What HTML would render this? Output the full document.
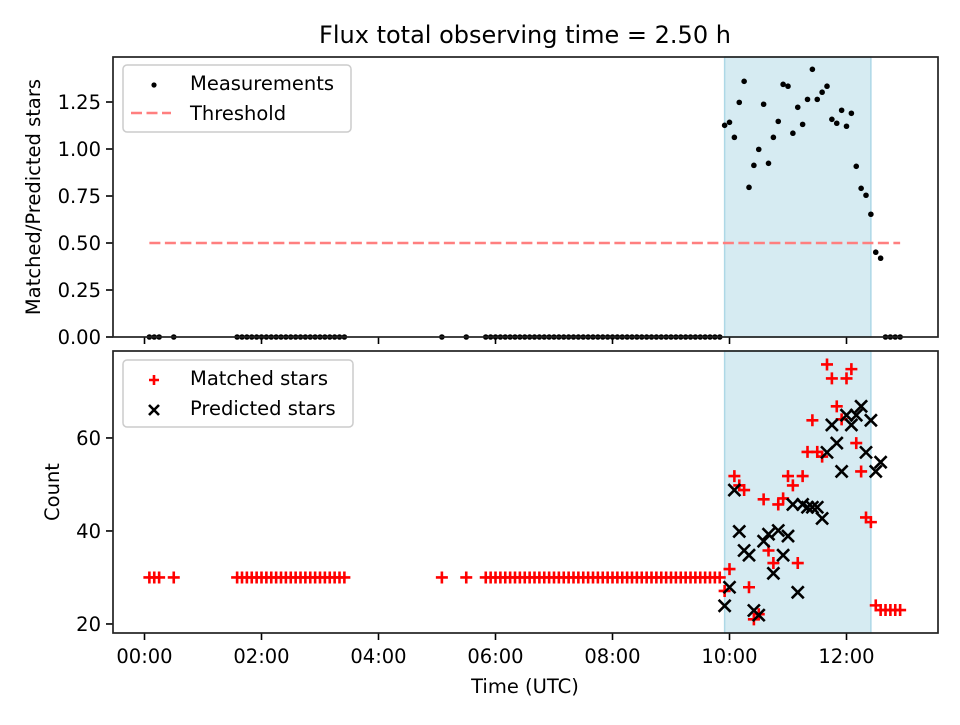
<!DOCTYPE html>
<html><head><meta charset="utf-8"><style>
body{margin:0;background:#fff}
svg{font-family:"DejaVu Sans","Liberation Sans",sans-serif}
</style></head><body>
<svg id="c" width="960" height="720" viewBox="0 0 960 720"></svg>
<script>
// ---- data ----
const preTimes = ["00:05","00:10","00:15","00:30"];
const groupA = ["01:35","03:25"];   // every 5 min between
const isoTimes = ["05:05","05:30"];
const groupB = ["05:50","09:50"];   // every 5 min between
const obsStart = "09:55";           // observing window samples every 5 min
const ratioValues = [1.126,1.142,1.062,1.248,1.360,0.796,0.913,0.998,1.238,0.924,1.062,1.147,1.344,1.334,1.084,1.222,1.131,1.264,1.424,1.264,1.302,1.334,1.158,1.137,1.206,1.121,1.190,0.908,0.791,0.754,0.653,0.451,0.419];
const matchedValues = [27.1,31.8,51.8,49.8,48.8,27.9,21.0,22.1,46.8,35.8,33.1,45.7,47.0,51.8,49.8,33.1,51.8,57.0,63.8,57.0,56.0,75.8,72.8,66.8,64.0,72.8,74.8,58.9,52.8,42.9,41.9,24.0,23.0];
const predictedValues = [23.9,27.9,48.8,39.9,35.8,34.8,22.9,21.9,37.8,39.3,30.9,40.1,34.8,38.9,45.7,26.8,45.7,45.1,45.1,45.1,42.7,56.9,62.8,58.9,52.8,64.9,62.8,64.9,66.8,56.9,63.8,52.8,54.8];
const postTimes = ["12:40","12:45","12:50","12:55"];
const postMatched = 23;
const offMatched = 30;
const shadeRange = ["09:55","12:25"];
const thresholdRange = ["00:05","12:55"];
const thresholdValue = 0.5;
const xTicks = ["00:00","02:00","04:00","06:00","08:00","10:00","12:00"];
const topTicks = [0,0.25,0.5,0.75,1.0,1.25];
const botTicks = [20,40,60];

// ---- helpers ----
const NS="http://www.w3.org/2000/svg";
const svg=document.getElementById('c');
function mk(t,a,p){const e=document.createElementNS(NS,t);for(const k in a)e.setAttribute(k,a[k]);(p||svg).appendChild(e);return e;}
function hrs(s){const [h,m]=s.split(':').map(Number);return h+m/60;}
function range5(a,b){const r=[];for(let t=hrs(a);t<=hrs(b)+1e-6;t+=5/60)r.push(t);return r;}
const L=113,R=938,T1=57,B1=337,T2=351,B2=633;
const xmin=-0.5385,xmax=13.564;
const X=h=>L+(h-xmin)/(xmax-xmin)*(R-L);
const Y1=v=>B1-v/1.4894*(B1-T1);
const Y2=v=>B2-(v-18.06)/(78.7-18.06)*(B2-T2);
const FS=19.5;

const offTimes=[...preTimes.map(hrs),...range5(groupA[0],groupA[1]),...isoTimes.map(hrs),...range5(groupB[0],groupB[1])];
const obsTimes=[];for(let i=0;i<ratioValues.length;i++)obsTimes.push(hrs(obsStart)+i*5/60);
const postT=postTimes.map(hrs);

// title
let t=mk('text',{x:525,y:43,'font-size':'24','text-anchor':'middle'});t.textContent='Flux total observing time = 2.50 h';



function panel(top,bot,Y,ticks,fmt,name){
  const g=mk('g',{});
  
  
  const sh=mk('rect',{x:X(hrs(shadeRange[0])),y:top,width:X(hrs(shadeRange[1]))-X(hrs(shadeRange[0])),height:bot-top,fill:'#add8e6','fill-opacity':0.5,stroke:'#add8e6','stroke-width':1.5},g);
  
  
  ticks.forEach(v=>{const y=Y(v);mk('line',{x1:L-7,x2:L,y1:y,y2:y,stroke:'#000','stroke-width':1.6},g);
    const tx=mk('text',{x:L-12,y:y+7,'font-size':FS,'text-anchor':'end'},g);tx.textContent=fmt(v);
    
    });
  xTicks.forEach(s=>{const x=X(hrs(s));mk('line',{x1:x,x2:x,y1:bot,y2:bot+7,stroke:'#000','stroke-width':1.6},g);});
  return g;
}
const g1=panel(T1,B1,Y1,topTicks,v=>v.toFixed(2),'top-panel');
const g2=panel(T2,B2,Y2,botTicks,v=>String(v),'bottom-panel');

// top: threshold
const th=mk('line',{x1:X(hrs(thresholdRange[0])),x2:X(hrs(thresholdRange[1])),y1:Y1(thresholdValue),y2:Y1(thresholdValue),stroke:'#ff7f7f','stroke-width':2.6,'stroke-dasharray':'11,4.5'},g1);


function dot(x,y){const c=mk('circle',{cx:x,cy:y,r:2.8,fill:'#000'},g1);
  
  }
offTimes.forEach(h=>dot(X(h),Y1(0)));
obsTimes.forEach((h,i)=>dot(X(h),Y1(ratioValues[i])));
postT.forEach(h=>dot(X(h),Y1(0)));

// bottom
function plus(x,y){const p=mk('path',{d:`M${x-6},${y}H${x+6}M${x},${y-6}V${y+6}`,stroke:'#f00','stroke-width':2.6},g2);
  
  }
function cross(x,y){const p=mk('path',{d:`M${x-6},${y-6}L${x+6},${y+6}M${x-6},${y+6}L${x+6},${y-6}`,stroke:'#000','stroke-width':2.6},g2);
  
  }
offTimes.forEach(h=>plus(X(h),Y2(offMatched)));
obsTimes.forEach((h,i)=>plus(X(h),Y2(matchedValues[i])));
postT.forEach(h=>plus(X(h),Y2(postMatched)));
obsTimes.forEach((h,i)=>cross(X(h),Y2(predictedValues[i])));

// frames
[[T1,B1],[T2,B2]].forEach(([a,b])=>mk('rect',{x:L,y:a,width:R-L,height:b-a,fill:'none',stroke:'#222','stroke-width':1.7}));

// x tick labels
xTicks.forEach(s=>{const tx=mk('text',{x:X(hrs(s)),y:B2+30,'font-size':FS,'text-anchor':'middle'});tx.textContent=s;
  
  });

// axis titles
let a=mk('text',{x:525,y:693,'font-size':FS,'text-anchor':'middle'});a.textContent='Time (UTC)';


a=mk('text',{x:0,y:0,'font-size':FS,'text-anchor':'middle',transform:'translate(40,197) rotate(-90)'});a.textContent='Matched/Predicted stars';


a=mk('text',{x:0,y:0,'font-size':FS,'text-anchor':'middle',transform:'translate(59,492) rotate(-90)'});a.textContent='Count';



// legends
function legend(x,y,w,name,items){
  const g=mk('g',{});
  
  
  mk('rect',{x:x,y:y,width:w,height:67,rx:4,fill:'#fff','fill-opacity':0.8,stroke:'#ccc','stroke-width':1.5},g);
  items.forEach((it,i)=>{const cy=y+18+i*30;it.draw(g,x+28,cy);
    const tx=mk('text',{x:x+67,y:cy+7,'font-size':FS},g);tx.textContent=it.label;
    
    });
}
legend(123,65,228,'top-legend',[
  {label:'Measurements',draw:(g,x,y)=>mk('circle',{cx:x+3,cy:y+2,r:2.6,fill:'#000'},g)},
  {label:'Threshold',draw:(g,x,y)=>mk('line',{x1:x-20,x2:x+20,y1:y,y2:y,stroke:'#ff7f7f','stroke-width':2.6,'stroke-dasharray':'11,4.5'},g)}
]);
legend(123,360,230,'bottom-legend',[
  {label:'Matched stars',draw:(g,x,y)=>mk('path',{d:`M${x-2},${y+2}H${x+8}M${x+3},${y-3}V${y+7}`,stroke:'#f00','stroke-width':2.6},g)},
  {label:'Predicted stars',draw:(g,x,y)=>mk('path',{d:`M${x-2},${y-3}L${x+8},${y+7}M${x-2},${y+7}L${x+8},${y-3}`,stroke:'#000','stroke-width':2.6},g)}
]);
</script>
</body></html>
